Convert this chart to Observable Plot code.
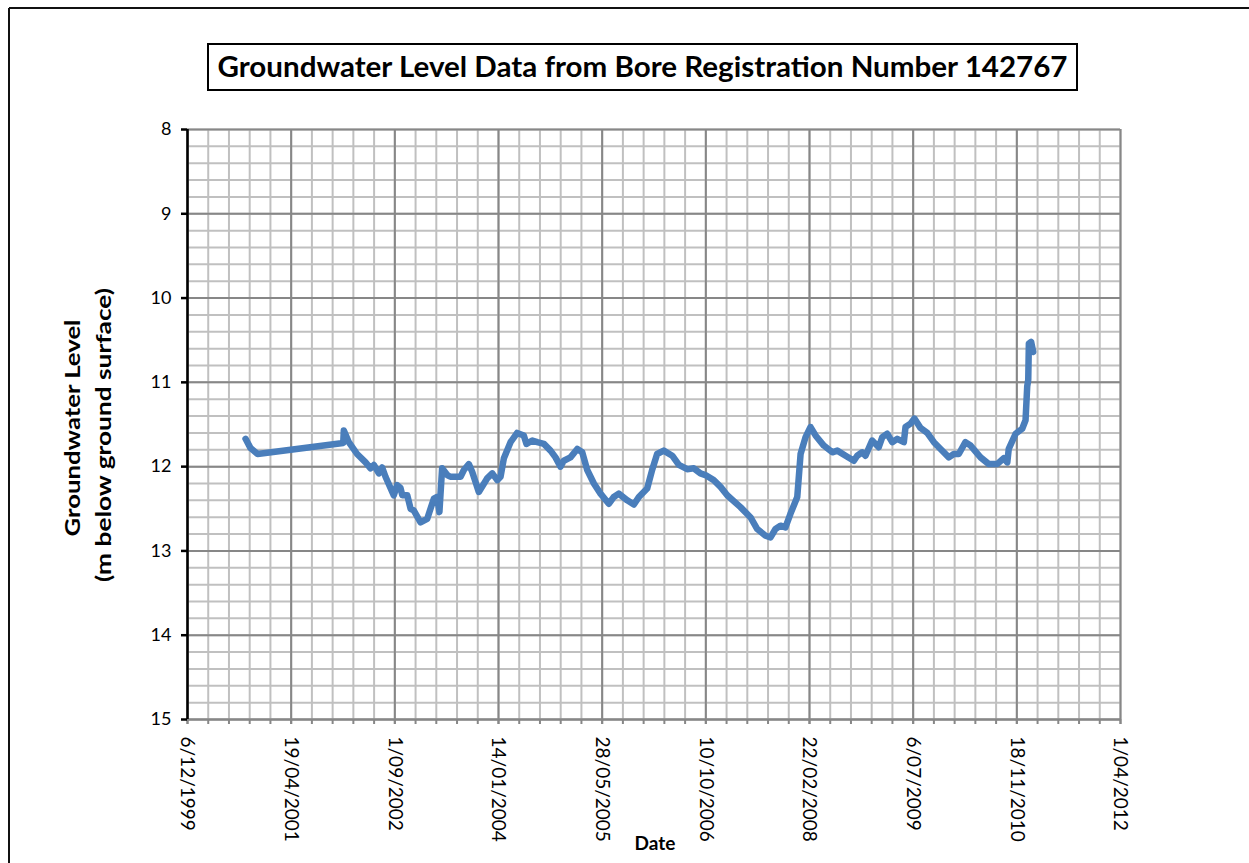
<!DOCTYPE html>
<html>
<head>
<meta charset="utf-8">
<script src="https://cdn.jsdelivr.net/npm/d3@7"></script>
<script src="https://cdn.jsdelivr.net/npm/@observablehq/plot@0.6"></script>
<style>
  html, body { margin: 0; padding: 0; background: #fff; }
  #wrap { position: relative; width: 1249px; height: 863px; overflow: hidden; background: #fff; }
  #overlay { position: absolute; left: 0; top: 0; pointer-events: none; }
  #chart { position: absolute; left: 0; top: 0; }
</style>
</head>
<body>
<div id="wrap">
  <div id="chart"></div>
  <svg id="overlay" width="1249" height="863" xmlns="http://www.w3.org/2000/svg">
    <line x1="9" y1="8" x2="1249" y2="8" stroke="#111" stroke-width="2"/>
    <line x1="9" y1="8" x2="9" y2="863" stroke="#111" stroke-width="2"/>
    <rect x="208" y="44" width="869" height="46" fill="#fff" stroke="#000" stroke-width="2"/>
    <text x="642.5" y="77" text-anchor="middle" font-family="Lato, 'Open Sans', sans-serif" font-weight="bold" font-size="28" textLength="850" lengthAdjust="spacingAndGlyphs">Groundwater Level Data from Bore Registration Number 142767</text>
    <text transform="translate(80,428) rotate(-90)" text-anchor="middle" font-family="Lato, sans-serif" font-weight="bold" font-size="21" textLength="217" lengthAdjust="spacingAndGlyphs">Groundwater Level</text>
    <text transform="translate(111,435) rotate(-90)" text-anchor="middle" font-family="Lato, sans-serif" font-weight="bold" font-size="21" textLength="294" lengthAdjust="spacingAndGlyphs">(m below ground surface)</text>
    <text x="655" y="850" text-anchor="middle" font-family="Lato, sans-serif" font-weight="bold" font-size="19">Date</text>
  </svg>
</div>
<script>
// Observation dates and groundwater level (m below ground surface)
const dates = [
  "2000-09-11","2000-10-05","2000-11-08","2001-12-26","2001-12-29","2002-01-22","2002-03-03","2002-04-13",
  "2002-05-07","2002-05-23","2002-06-16","2002-07-02","2002-07-18","2002-08-27","2002-09-12","2002-09-28",
  "2002-10-07","2002-10-31","2002-11-16","2002-12-01","2003-01-03","2003-02-04","2003-03-08","2003-03-24",
  "2003-04-04","2003-04-17","2003-05-12","2003-05-27","2003-07-15","2003-07-31","2003-08-24","2003-09-09",
  "2003-10-11","2003-11-20","2003-12-15","2004-01-08","2004-01-24","2004-02-09","2004-03-12","2004-04-13",
  "2004-05-15","2004-05-28","2004-06-25","2004-07-19","2004-08-20","2004-09-21","2004-10-15","2004-11-08",
  "2004-11-24","2004-12-26","2005-01-28","2005-02-21","2005-03-17","2005-04-18","2005-05-20","2005-06-29",
  "2005-07-23","2005-08-16","2005-09-26","2005-10-28","2005-11-21","2005-12-31","2006-01-24","2006-02-17",
  "2006-03-21","2006-05-01","2006-06-02","2006-07-12","2006-08-13","2006-09-14","2006-10-08","2006-11-17",
  "2006-12-20","2007-01-21","2007-03-26","2007-05-13","2007-06-15","2007-07-25","2007-08-18","2007-09-11",
  "2007-10-05","2007-10-29","2007-11-22","2007-12-25","2008-01-10","2008-02-03","2008-02-27","2008-03-22",
  "2008-05-01","2008-06-11","2008-07-05","2008-08-14","2008-09-23","2008-10-09","2008-11-02","2008-11-18",
  "2008-12-20","2009-01-21","2009-02-07","2009-03-03","2009-03-27","2009-04-20","2009-05-22","2009-05-30",
  "2009-06-23","2009-07-12","2009-08-10","2009-09-12","2009-10-14","2009-11-15","2009-12-25","2010-01-18",
  "2010-02-11","2010-03-15","2010-04-09","2010-05-27","2010-07-06","2010-08-15","2010-09-16","2010-10-03",
  "2010-10-10","2010-11-12","2010-12-14","2010-12-30","2011-01-07","2011-01-12","2011-01-15","2011-01-26",
  "2011-02-05"
];
const levels = [
  11.67,11.78,11.85,11.72,11.57,11.71,11.85,11.95,
  12.02,11.98,12.08,12.01,12.12,12.34,12.22,12.25,
  12.34,12.34,12.50,12.52,12.66,12.62,12.38,12.36,
  12.54,12.02,12.10,12.12,12.12,12.04,11.97,12.06,
  12.30,12.14,12.08,12.16,12.12,11.90,11.71,11.60,
  11.63,11.73,11.69,11.71,11.73,11.81,11.89,12.00,
  11.93,11.89,11.79,11.83,12.04,12.20,12.32,12.44,
  12.36,12.32,12.40,12.45,12.36,12.26,12.04,11.85,
  11.81,11.87,11.98,12.03,12.02,12.08,12.10,12.16,
  12.24,12.34,12.48,12.60,12.74,12.82,12.84,12.74,
  12.70,12.72,12.56,12.36,11.85,11.65,11.53,11.63,
  11.75,11.83,11.81,11.87,11.93,11.87,11.83,11.87,
  11.69,11.77,11.65,11.61,11.71,11.67,11.71,11.53,
  11.49,11.43,11.54,11.60,11.71,11.79,11.89,11.85,
  11.85,11.71,11.75,11.89,11.97,11.97,11.90,11.95,
  11.79,11.61,11.55,11.45,11.05,10.97,10.54,10.52,
  10.64
];
// Axis tick labels (dates every 500 days) and level ticks
const xTickDates = ["1999-12-06","2001-04-19","2002-09-01","2004-01-14","2005-05-28",
                    "2006-10-10","2008-02-22","2009-07-06","2010-11-18","2012-04-01"];
const yTicks = [8, 9, 10, 11, 12, 13, 14, 15];

const data = dates.map((d, i) => ({date: new Date(d), level: levels[i]}));
const majorX = xTickDates.map(d => new Date(d));
const start = majorX[0], end = majorX[majorX.length - 1];
const minorX = d3.range(0, 4501, 100).map(k => d3.utcDay.offset(start, k));
const minorY = d3.range(0, 36).map(k => 8 + k * 0.2);
const fmt = d3.utcFormat("%-d/%m/%Y");

const minorCol = "#c0c0c0", majorCol = "#878787";

const chart = Plot.plot({
  width: 1249,
  height: 863,
  marginLeft: 187,
  marginRight: 129,
  marginTop: 129,
  marginBottom: 144,
  style: {fontFamily: "Lato, sans-serif", fontSize: "18px", color: "#000", background: "transparent"},
  x: {type: "utc", domain: [start, end]},
  y: {domain: [8, 15], reverse: true},
  marks: [
    Plot.gridX(minorX, {stroke: minorCol, strokeOpacity: 1, strokeWidth: 2}),
    Plot.gridY(minorY, {stroke: minorCol, strokeOpacity: 1, strokeWidth: 2}),
    Plot.gridX(majorX, {stroke: majorCol, strokeOpacity: 1, strokeWidth: 2}),
    Plot.gridY(yTicks, {stroke: majorCol, strokeOpacity: 1, strokeWidth: 2}),
    Plot.ruleY([15], {stroke: majorCol, strokeWidth: 2}),
    Plot.axisX(minorX, {tickSize: 5, stroke: majorCol, strokeWidth: 2, tickFormat: () => "", label: null}),
    Plot.axisX(majorX, {tickSize: 5, stroke: majorCol, strokeWidth: 2, tickFormat: fmt, tickRotate: 90, tickPadding: 12, fontSize: 19, label: null}),
    Plot.axisY(yTicks, {tickSize: 6, stroke: "#000", strokeWidth: 2.5, tickPadding: 10, fontSize: 18, tickFormat: d => String(d), label: null}),
    Plot.ruleX([start], {stroke: "#000", strokeWidth: 2.5}),
    Plot.line(data, {x: "date", y: "level", stroke: "#4a7ebb", strokeWidth: 6.5, strokeLinejoin: "round", strokeLinecap: "round"})
  ]
});
document.getElementById("chart").appendChild(chart);
</script>
</body>
</html>
